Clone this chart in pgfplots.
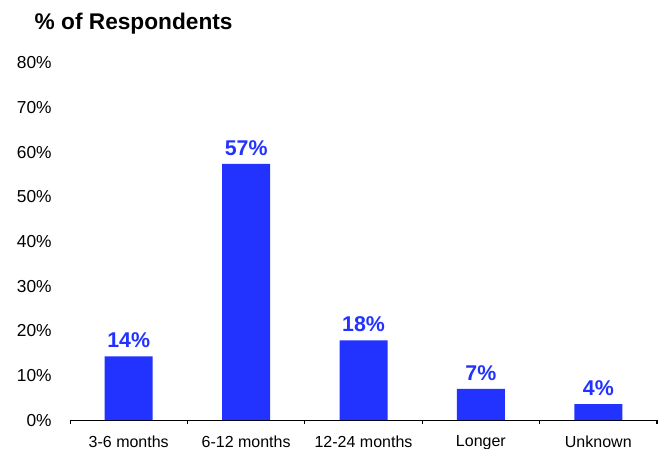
\documentclass[border=0pt]{standalone}
\usepackage{fontspec}
\setmainfont{Liberation Sans}
\usepackage{pgfplots}
\pgfplotsset{compat=1.18}
\definecolor{barblue}{HTML}{2233FF}
\begin{document}
\begin{tikzpicture}
\begin{axis}[
  at={(0,0)}, anchor=origin,
  scale only axis,
  width=440pt, height=267.75pt,
  xmin=-0.5, xmax=4.5, ymin=0, ymax=80,
  axis x line*=bottom,
  axis y line*=left,
  y axis line style={draw=none},
  ytick={0,10,...,80},
  yticklabel={\pgfmathprintnumber{\tick}\%},
  ytick style={draw=none},
  yticklabel style={font=\fontsize{13}{15}\selectfont, xshift=-6pt},
  /pgf/number format/assume math mode=true,
  xtick={0,1,2,3,4},
  xticklabels={3-6 months,6-12 months,12-24 months,Longer,Unknown},
  major x tick style={draw=none},
  minor xtick={-0.5,0.5,1.5,2.5,3.5,4.5},
  minor x tick style={black, thick},
  minor tick length=3pt,
  tick align=outside,
  xticklabel style={font=\fontsize{12}{14}\selectfont, yshift=-4pt},
  x axis line style={black, thick, -},
  ybar, bar width=36pt,
  nodes near coords,
  point meta=explicit symbolic,
  nodes near coords style={font=\bfseries\fontsize{16}{18}\selectfont, text=barblue, yshift=3pt},
  clip=false,
]
\addplot[fill=barblue, draw=none] coordinates {
  (0,14.3) [14\%]
  (1,57.4) [57\%]
  (2,17.9) [18\%]
  (3,7.0) [7\%]
  (4,3.6) [4\%]
};
\node[anchor=base west, font=\bfseries\fontsize{17}{20}\selectfont] at ([xshift=-30pt,yshift=25pt]rel axis cs:0,1) {\% of Respondents};
\coordinate (bl) at ([xshift=-52.5pt,yshift=-21pt]rel axis cs:0,0);
\coordinate (tr) at ([xshift=0.75pt,yshift=47.25pt]rel axis cs:1,1);
\end{axis}
\pgfresetboundingbox
\path[use as bounding box] (bl) rectangle (tr);
\end{tikzpicture}
\end{document}
